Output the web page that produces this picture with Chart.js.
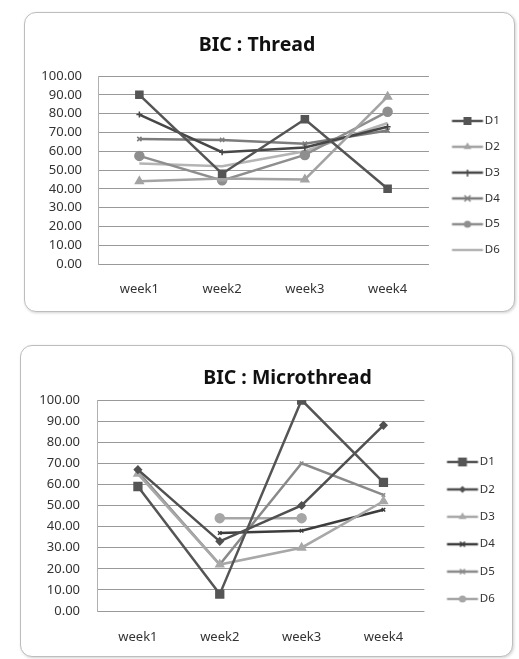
<!DOCTYPE html>
<html>
<head>
<meta charset="utf-8">
<script src="https://cdn.jsdelivr.net/npm/chart.js@4.4.1/dist/chart.umd.min.js"></script>
<style>
  html, body { margin: 0; padding: 0; background: #fff; width: 519px; height: 659px; overflow: hidden; }
  .panel { position: absolute; border: 1px solid #bdbdbd; border-radius: 12px; background: #fff;
           box-shadow: 1px 1px 3px rgba(0,0,0,0.18); }
  .panel canvas { position: absolute; left: 0; top: 0; }
</style>
</head>
<body>
<div class="panel" style="left:24px;top:12px;width:489px;height:298px;">
  <canvas id="thread" width="489" height="298"></canvas>
</div>
<div class="panel" style="left:20px;top:345px;width:491px;height:310px;">
  <canvas id="micro" width="491" height="310"></canvas>
</div>
<script>
// ---- data ----
const weeks = ['week1', 'week2', 'week3', 'week4'];
const seriesNames = ['D1', 'D2', 'D3', 'D4', 'D5', 'D6'];
const yTicks = [0, 10, 20, 30, 40, 50, 60, 70, 80, 90, 100];

const threadD1 = [90, 48, 77, 40];
const threadD2 = [44, 45.5, 45, 89];
const threadD3 = [79.5, 59.5, 62, 73];
const threadD4 = [66.5, 66, 64, 71];
const threadD5 = [57.5, 44.5, 58, 81];
const threadD6 = [53.5, 52, 60, 75];

const microD1 = [59, 8, 100, 61];
const microD2 = [67, 33, 50, 88];
const microD3 = [65, 22, 30, 52];
const microD4 = [null, 37, 38, 48];
const microD5 = [66, 22, 70, 55];
const microD6 = [null, 44, 44, null];

// ---- styling per series ----
const threadStyle = [
  { color: '#555555', marker: 'rect',     r: 5 },
  { color: '#a3a3a3', marker: 'triangle', r: 4.5 },
  { color: '#474747', marker: 'cross',    r: 3 },
  { color: '#7c7c7c', marker: 'crossRot', r: 3 },
  { color: '#8e8e8e', marker: 'circle',   r: 4.5 },
  { color: '#b4b4b4', marker: 'circle',   r: 0 }
];
const microStyle = [
  { color: '#555555', marker: 'rect',     r: 5.5 },
  { color: '#505050', marker: 'rectRot',  r: 3.5 },
  { color: '#a8a8a8', marker: 'triangle', r: 4.5 },
  { color: '#3c3c3c', marker: 'crossRot', r: 2.5 },
  { color: '#8a8a8a', marker: 'crossRot', r: 2.5 },
  { color: '#a6a6a6', marker: 'circle',   r: 4.5 }
];

const FONT = '"Noto Sans", "Open Sans", sans-serif';
const SW_BOX = 27;      // legend box width reserved before the label text
const SW_W = 40;        // swatch image width (centred on the box)
const SW_LINE = 31;     // length of the drawn line segment

// small line + marker swatch used as the legend symbol
function swatch(st) {
  const h = 14;
  const c = document.createElement('canvas');
  c.width = SW_W; c.height = h;
  const g = c.getContext('2d');
  const x0 = SW_W / 2 - SW_BOX / 2;          // where the box starts inside the image
  const cy = h / 2, cx = x0 + SW_LINE / 2;
  g.strokeStyle = st.color; g.fillStyle = st.color; g.lineWidth = 2.5;
  g.beginPath(); g.moveTo(x0, cy); g.lineTo(x0 + SW_LINE, cy); g.stroke();
  const r = st.r;
  if (r > 0) {
    g.lineWidth = 1.5;
    g.beginPath();
    if (st.marker === 'rect') { g.rect(cx - r * 0.8, cy - r * 0.8, r * 1.6, r * 1.6); g.fill(); }
    else if (st.marker === 'rectRot') { g.moveTo(cx, cy - r); g.lineTo(cx + r, cy); g.lineTo(cx, cy + r); g.lineTo(cx - r, cy); g.closePath(); g.fill(); }
    else if (st.marker === 'triangle') { g.moveTo(cx, cy - r); g.lineTo(cx + r * 0.87, cy + r * 0.5); g.lineTo(cx - r * 0.87, cy + r * 0.5); g.closePath(); g.fill(); }
    else if (st.marker === 'circle') { g.arc(cx, cy, r * 0.8, 0, Math.PI * 2); g.fill(); }
    else if (st.marker === 'cross') { g.moveTo(cx, cy - r); g.lineTo(cx, cy + r + 1); g.stroke(); }
    else if (st.marker === 'crossRot') { g.moveTo(cx - r, cy - r); g.lineTo(cx + r, cy + r); g.moveTo(cx + r, cy - r); g.lineTo(cx - r, cy + r); g.stroke(); }
  }
  return c;
}

function makeDatasets(values, styles) {
  return values.map((v, i) => ({
    label: seriesNames[i],
    data: v,
    borderColor: styles[i].color,
    backgroundColor: styles[i].color,
    borderWidth: 2.5,
    pointStyle: styles[i].marker,
    pointRadius: styles[i].r,
    pointBorderWidth: 1.5,
    tension: 0,
    spanGaps: false,
    legendSwatch: swatch(styles[i])
  }));
}

function makeChart(id, title, datasets, L) {
  // fixed placement for the legend column and the title centre
  const placeBoxes = {
    id: 'placeBoxes',
    afterLayout(chart) {
      const lg = chart.legend;
      const pad = L.legendPad;
      const fs = L.legendFont;
      const dx = L.legendX - (lg.left + pad);
      lg.left += dx; lg.right += dx;
      const h = lg.bottom - lg.top;
      lg.top = L.legendY - pad - fs / 2;
      lg.bottom = lg.top + Math.max(h, 6 * (fs + pad) + pad);
      const tb = chart.titleBlock;
      if (tb) { tb.left += L.titleShift; tb.right += L.titleShift; }
    }
  };
  return new Chart(document.getElementById(id), {
    type: 'line',
    data: { labels: weeks, datasets },
    plugins: [placeBoxes],
    options: {
      responsive: false,
      animation: false,
      devicePixelRatio: 1,
      layout: { padding: { left: 0, top: 0, bottom: 0, right: L.padRight } },
      plugins: {
        title: {
          display: true, text: title, color: '#111',
          font: { family: FONT, size: 19.5, weight: 'bold' },
          padding: { top: L.titleTop, bottom: L.titleBottom }
        },
        legend: {
          display: true, position: 'right', align: 'start',
          labels: {
            usePointStyle: true, pointStyleWidth: SW_BOX, padding: L.legendPad,
            color: '#333', font: { family: FONT, size: L.legendFont },
            generateLabels(chart) {
              return chart.data.datasets.map((ds, i) => ({
                text: ds.label, pointStyle: ds.legendSwatch, fillStyle: ds.borderColor,
                strokeStyle: ds.borderColor, lineWidth: 0, hidden: false, datasetIndex: i,
                fontColor: '#333'
              }));
            }
          }
        },
        tooltip: { enabled: false }
      },
      scales: {
        x: {
          offset: true,
          grid: { display: false },
          border: { display: false },
          ticks: { color: '#333', padding: L.xPad, font: { family: FONT, size: 13 } },
          afterFit(s) { s.height = L.xHeight; }
        },
        y: {
          min: 0, max: 100,
          afterBuildTicks(s) { s.ticks = yTicks.map(v => ({ value: v })); },
          grid: { color: '#999999', lineWidth: 1, drawTicks: false },
          border: { display: true, color: '#b0b0b0', width: 1 },
          ticks: { color: '#333', padding: L.yPad, font: { family: FONT, size: 13 },
                   callback: v => Number(v).toFixed(2) },
          afterFit(s) { s.width = L.yWidth; }
        }
      }
    }
  });
}

makeChart('thread', 'BIC : Thread',
  makeDatasets([threadD1, threadD2, threadD3, threadD4, threadD5, threadD6], threadStyle),
  { padRight: 13, titleTop: 20.3, titleBottom: 19.3, titleShift: -6, xPad: 9, xHeight: 47, yPad: 16, yWidth: 73,
    legendPad: 14.3, legendFont: 11.5, legendX: 427, legendY: 108 });

makeChart('micro', 'BIC : Microthread',
  makeDatasets([microD1, microD2, microD3, microD4, microD5, microD6], microStyle),
  { padRight: 14, titleTop: 20.3, titleBottom: 10.3, titleShift: 28, xPad: 10, xHeight: 45, yPad: 17, yWidth: 76,
    legendPad: 15.9, legendFont: 11.5, legendX: 426, legendY: 116 });
</script>
</body>
</html>
